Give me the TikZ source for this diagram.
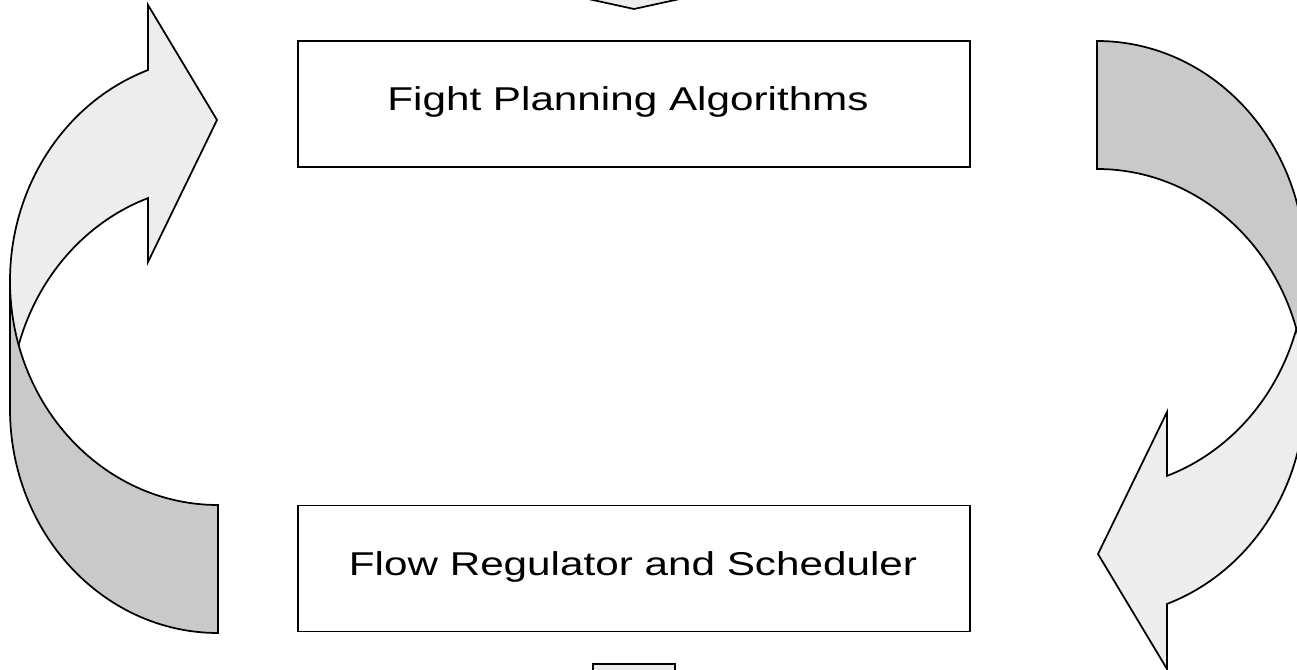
\documentclass[tikz,border=0pt]{standalone}
\usepackage{fontspec}
\setmainfont{Liberation Sans}
\usepackage{graphicx}

% Curved arrow: light front band ending in a head, dark back band behind it
\newcommand\curvedloop{%
  \draw[lightband] (10,281)
      arc[start angle=180, end angle=109.67, x radius=156pt, y radius=168pt]
      -- (148,5) -- (217,120) -- (148,262) -- (148,198.1)
      arc[start angle=109.67, end angle=180, x radius=156pt, y radius=168pt]
      -- cycle;
  \draw[darkband] (218,633)
      arc[start angle=270, end angle=180, x radius=156pt, y radius=168pt]
      -- (10,281)
      arc[start angle=180, end angle=270, x radius=156pt, y radius=168pt]
      -- cycle;
}

\begin{document}
\begin{tikzpicture}[x=0.75pt, y=-0.75pt,
  shapeline/.style={draw=black, line width=1.3pt, line join=miter},
  lightband/.style={shapeline, fill=black!7},
  darkband/.style={shapeline, fill=black!21},
  stagebox/.style={draw=black, line width=1.3pt, fill=white,
    minimum width=504pt, minimum height=94.5pt, inner sep=0pt},
  stagetext/.style={inner sep=0pt, anchor=base,
    font=\fontsize{24.75pt}{30pt}\selectfont}]
\useasboundingbox (0,0) rectangle (1297,670);
\clip (0,0) rectangle (1297,670);

% left and right curved arrows
\curvedloop
\begin{scope}[rotate around={180:(657.5,337)}]
  \curvedloop
\end{scope}

% arrow entering from above and arrow leaving below
\draw[lightband] (570,-5) -- (634,9) -- (698,-5) -- cycle;
\draw[lightband] (593,664) rectangle (675,690);

% the two stages
\node[stagebox] (plan) at (634,104) {};
\node[stagetext] (plantext) at (628,111)
  {\scalebox{1.28}[1]{Fight Planning Algorithms}};
\node[stagebox] (flow) at (634,568.5) {};
\node[stagetext] (flowtext) at (633,575.5)
  {\scalebox{1.28}[1]{Flow Regulator and Scheduler}};
\end{tikzpicture}
\end{document}
